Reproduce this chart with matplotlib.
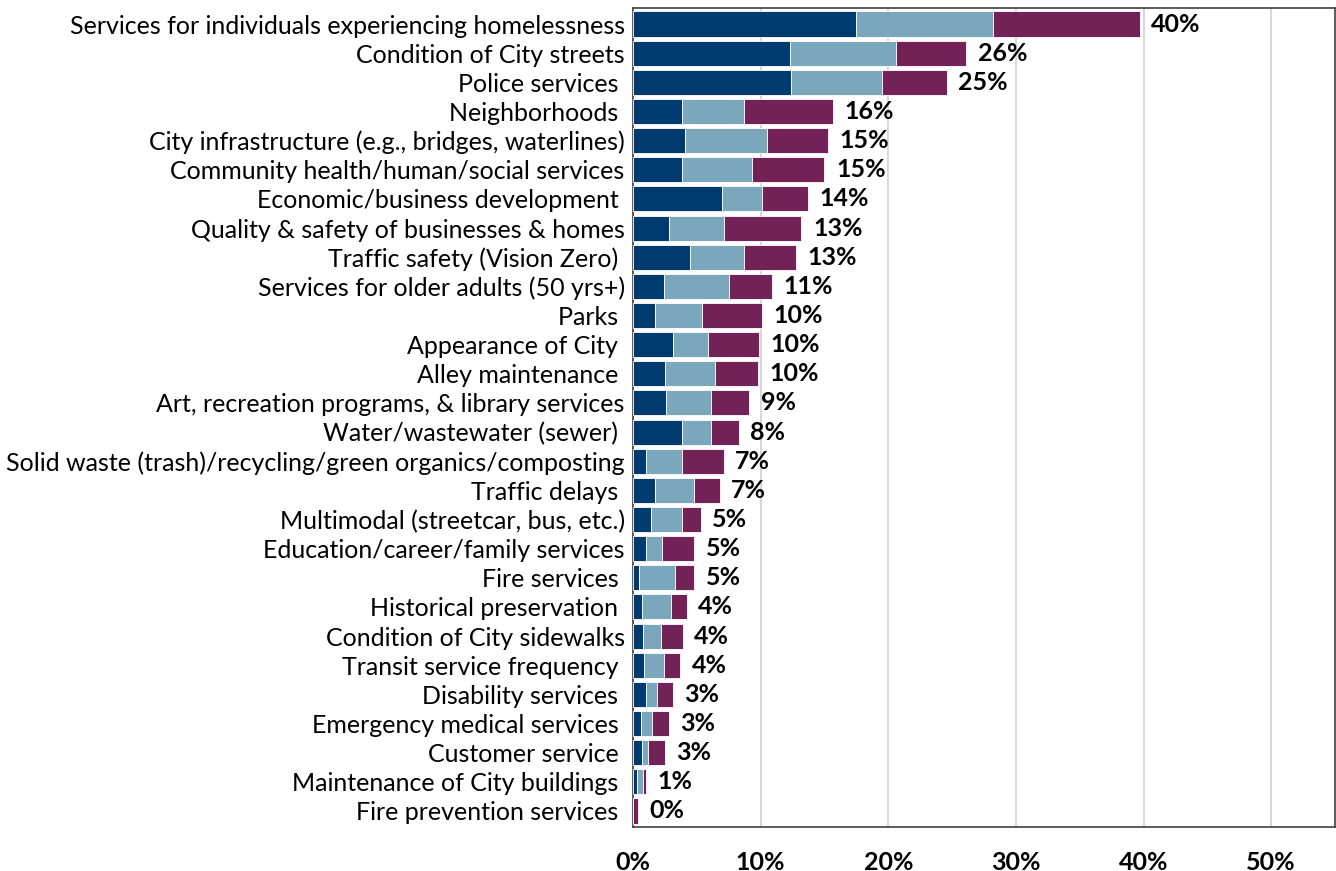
import numpy as np
import matplotlib
matplotlib.use("Agg")
import matplotlib.pyplot as plt
from matplotlib.ticker import FuncFormatter

plt.rcParams['font.family'] = ['Lato', 'DejaVu Sans']

# Kategorier (øverst til nederst)
kategorier = [
    "Services for individuals experiencing homelessness",
    "Condition of City streets",
    "Police services ",
    "Neighborhoods ",
    "City infrastructure (e.g., bridges, waterlines)",
    "Community health/human/social services",
    "Economic/business development ",
    "Quality & safety of businesses & homes",
    "Traffic safety (Vision Zero) ",
    "Services for older adults (50 yrs+)",
    "Parks ",
    "Appearance of City ",
    "Alley maintenance ",
    "Art, recreation programs, & library services",
    "Water/wastewater (sewer) ",
    "Solid waste (trash)/recycling/green organics/composting",
    "Traffic delays ",
    "Multimodal (streetcar, bus, etc.)",
    "Education/career/family services",
    "Fire services ",
    "Historical preservation ",
    "Condition of City sidewalks",
    "Transit service frequency ",
    "Disability services ",
    "Emergency medical services ",
    "Customer service ",
    "Maintenance of City buildings ",
    "Fire prevention services ",
]

# Tre segmenter per stolpe (prosent)
forste = [17.5, 12.3, 12.4, 3.8, 4.1, 3.8, 7.0, 2.8, 4.5, 2.4, 1.7, 3.1, 2.5, 2.6, 3.8,
          1.0, 1.7, 1.4, 1.0, 0.5, 0.7, 0.8, 0.9, 1.0, 0.6, 0.7, 0.3, 0.0]
andre = [10.7, 8.3, 7.1, 4.9, 6.4, 5.5, 3.1, 4.3, 4.2, 5.1, 3.7, 2.8, 3.9, 3.5, 2.3,
         2.8, 3.1, 2.4, 1.3, 2.8, 2.3, 1.4, 1.5, 0.9, 0.9, 0.5, 0.5, 0.0]
tredje = [11.5, 5.5, 5.1, 7.0, 4.8, 5.7, 3.6, 6.1, 4.1, 3.4, 4.7, 4.0, 3.4, 3.0, 2.2,
          3.3, 2.0, 1.5, 2.5, 1.5, 1.2, 1.7, 1.3, 1.2, 1.3, 1.3, 0.2, 0.4]
etiketter = ["40%", "26%", "25%", "16%", "15%", "15%", "14%", "13%", "13%", "11%",
             "10%", "10%", "10%", "9%", "8%", "7%", "7%", "5%", "5%", "5%",
             "4%", "4%", "4%", "3%", "3%", "3%", "1%", "0%"]

farger = ["#003B6F", "#7BA7BC", "#722257"]

fig = plt.figure(figsize=(13.36, 8.71), dpi=100)
ax = fig.add_axes([633 / 1336, 1 - 827 / 871, 702 / 1336, 819 / 871])

y = np.arange(len(kategorier))
a = np.array(forste)
b = np.array(andre)
c = np.array(tredje)

ax.barh(y, a, height=0.86, color=farger[0], edgecolor="white", linewidth=0.6, zorder=3)
ax.barh(y, b, left=a, height=0.86, color=farger[1], edgecolor="white", linewidth=0.6, zorder=3)
ax.barh(y, c, left=a + b, height=0.86, color=farger[2], edgecolor="white", linewidth=0.6, zorder=3)

for i, lab in enumerate(etiketter):
    ax.text(a[i] + b[i] + c[i] + 0.9, y[i], lab, va="center", ha="left",
            fontsize=18, fontweight="bold", color="black")

ax.set_xlim(0, 55)
ax.set_ylim(len(kategorier) - 0.5 + 0.05, -0.5 - 0.05)
ax.set_xticks([0, 10, 20, 30, 40, 50])
ax.xaxis.set_major_formatter(FuncFormatter(lambda v, p: f"{v:.0f}%"))
ax.set_yticks(y)
ax.set_yticklabels(kategorier, fontsize=18)
ax.tick_params(axis="y", length=0, pad=6)
ax.tick_params(axis="x", length=0, pad=17, labelsize=18)
for t in ax.get_xticklabels():
    t.set_fontweight("bold")
ax.grid(axis="x", color="#D0D0D0", linewidth=1.2, zorder=0)
for s in ax.spines.values():
    s.set_color("#404040")
    s.set_linewidth(1.2)

fig.savefig("out.png", dpi=100)
